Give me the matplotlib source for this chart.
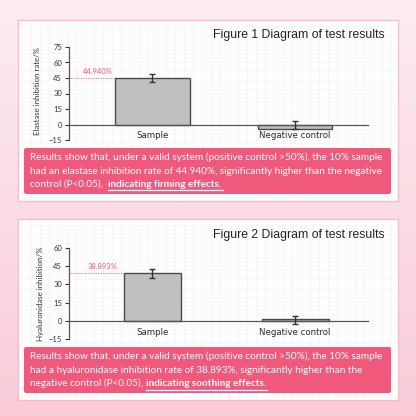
import matplotlib.pyplot as plt
import numpy as np
from matplotlib.patches import FancyBboxPatch
from matplotlib.lines import Line2D

categories = ["Sample", "Negative control"]

elastase = [44.94, -4.2]
elastase_err_low = [4.2, 0.3]
elastase_err_high = [4.2, 7.6]
elastase_ticks = [-15, 0, 15, 30, 45, 60, 75]

hyal = [38.893, 1.6]
hyal_err_low = [3.5, 4.4]
hyal_err_high = [3.5, 2.5]
hyal_ticks = [-15, 0, 15, 30, 45, 60]

titles = ["Figure 1 Diagram of test results", "Figure 2 Diagram of test results"]
ylabels = ["Elastase inhibition rate/%", "Hyaluronidase inhibition/%"]
value_labels = ["44.940%", "38.893%"]

text1 = ["Results show that, under a valid system (positive control >50%), the 10% sample",
         "had an elastase inhibition rate of 44.940%, significantly higher than the negative",
         "control (P<0.05),  "]
bold1 = "indicating firming effects."
text2 = ["Results show that, under a valid system (positive control >50%), the 10% sample",
         "had a hyaluronidase inhibition rate of 38.893%, significantly higher than the",
         "negative control (P<0.05), "]
bold2 = "indicating soothing effects."

W = H = 416
PINK = "#F0597B"
BORDER = "#F7BCCB"

fig = plt.figure(figsize=(4.16, 4.16), dpi=100)


def fx(px):
    return px / W


def fy(py):
    return 1 - py / H


# background gradient
bg = fig.add_axes([0, 0, 1, 1], zorder=-10)
grad = np.linspace(0, 1, 256).reshape(-1, 1)
top = np.array([253, 236, 241]) / 255
bot = np.array([249, 204, 216]) / 255
img = top + (bot - top) * grad[..., None]
bg.imshow(img, aspect="auto", extent=[0, 1, 0, 1])
bg.set_axis_off()


def card(y0, y1):
    # faint grid inside card
    cax = fig.add_axes([fx(18), fy(y1), fx(380), (y1 - y0) / H], zorder=-5)
    cax.set_xlim(0, 380)
    cax.set_ylim(0, y1 - y0)
    cax.set_facecolor("white")
    for g in np.arange(4, 380, 9):
        cax.axvline(g, color="#FDF2F5", lw=0.6)
    for g in np.arange(4, y1 - y0, 9):
        cax.axhline(g, color="#FDF2F5", lw=0.6)
    for s in cax.spines.values():
        s.set_edgecolor(BORDER)
        s.set_linestyle((0, (2, 1)))
        s.set_linewidth(0.9)
    cax.set_xticks([])
    cax.set_yticks([])


def chart(top_px, bot_px, ymin, ymax, vals, lo, hi, ticks, widths, vlab):
    ax = fig.add_axes([fx(69), fy(bot_px), fx(368 - 69), (bot_px - top_px) / H])
    ax.patch.set_alpha(0)
    x = np.arange(len(categories))
    ax.bar(x, vals, width=widths, color="#C0C0C0", edgecolor="#4A4A4A", linewidth=1.0, zorder=2)
    ax.errorbar(x, vals, yerr=[lo, hi], fmt="none", ecolor="#333333", elinewidth=1.0,
                capsize=2, capthick=1.0, zorder=3)
    ax.set_xlim(-0.585, 1.511)
    ax.set_ylim(ymin, ymax)
    ax.set_yticks(ticks)
    ax.set_xticks(x)
    ax.set_xticklabels(categories)
    ax.tick_params(axis="y", length=3, width=0.8, labelsize=5.5, colors="#333333", pad=2)
    ax.tick_params(axis="x", direction="in", length=2.5, width=0.8, pad=5,
                   labelsize=6.2, labelcolor="#2A2A2A")
    for t in ax.get_yticklabels():
        t.set_family("Lato")
    for t in ax.get_xticklabels():
        t.set_family("Lato")
        t.set_fontweight("bold")
    ax.spines["bottom"].set_position(("data", 0))
    ax.spines["top"].set_visible(False)
    ax.spines["right"].set_visible(False)
    ax.spines["left"].set_color("#555555")
    ax.spines["bottom"].set_color("#555555")
    ax.spines["left"].set_linewidth(0.9)
    ax.spines["bottom"].set_linewidth(0.9)
    # dotted reference line and value label
    left = x[0] - widths[0] / 2
    ax.plot([-0.585, left], [vals[0], vals[0]], ls=(0, (1, 1)), color=PINK, lw=0.6, zorder=1)
    ax.text((-0.585 + left) / 2 + 0.04, vals[0] + 2.5, vlab, color=PINK, fontsize=5.5,
            ha="center", va="bottom", family="Lato")
    return ax


def textbox(y0, y1, lines, bold, centers):
    fig.patches.append(FancyBboxPatch((fx(24), fy(y1)), fx(367), (y1 - y0) / H,
                                      boxstyle="round,pad=0,rounding_size=0.005",
                                      transform=fig.transFigure, facecolor=PINK,
                                      edgecolor="none", zorder=1))
    last = None
    for ln, cy in zip(lines, centers):
        last = fig.text(fx(30), fy(cy), ln, color="white", fontsize=7.2, family="Lato",
                        va="center", ha="left")
    fig.canvas.draw()
    r = fig.canvas.get_renderer()
    bb = last.get_window_extent(r)
    xb = bb.x1 / fig.bbox.width
    tb = fig.text(xb, fy(centers[-1]), bold, color="white", fontsize=7.2, family="Lato",
                  fontweight="bold", va="center", ha="left")
    bb2 = tb.get_window_extent(r)
    uy = fy(centers[-1] + 6)
    fig.lines.append(Line2D([xb, bb2.x1 / fig.bbox.width + 0.004], [uy, uy],
                            transform=fig.transFigure, color="white", lw=0.9))


card(20, 201)
card(219, 400)

fig.text(fx(385), fy(35), titles[0], ha="right", va="center", fontsize=8.8,
         family="Liberation Sans", color="#222222")
fig.text(fx(385), fy(235), titles[1], ha="right", va="center", fontsize=8.8,
         family="Liberation Sans", color="#222222")

chart(47, 140, -15, 75, elastase, elastase_err_low, elastase_err_high, elastase_ticks,
      [0.52, 0.52], value_labels[0])
chart(247.7, 339.3, -15, 60, hyal, hyal_err_low, hyal_err_high, hyal_ticks,
      [0.40, 0.47], value_labels[1])

fig.text(fx(38), fy(91), ylabels[0], rotation=90, ha="center", va="center", fontsize=5.7,
         family="Lato", color="#333333")
fig.text(fx(40), fy(294), ylabels[1], rotation=90, ha="center", va="center", fontsize=5.7,
         family="Lato", color="#333333")

textbox(148, 194, text1, bold1, [157.3, 171.3, 184.3])
textbox(347, 393, text2, bold2, [356.7, 370.3, 383.7])

fig.savefig("out.png", dpi=100)
